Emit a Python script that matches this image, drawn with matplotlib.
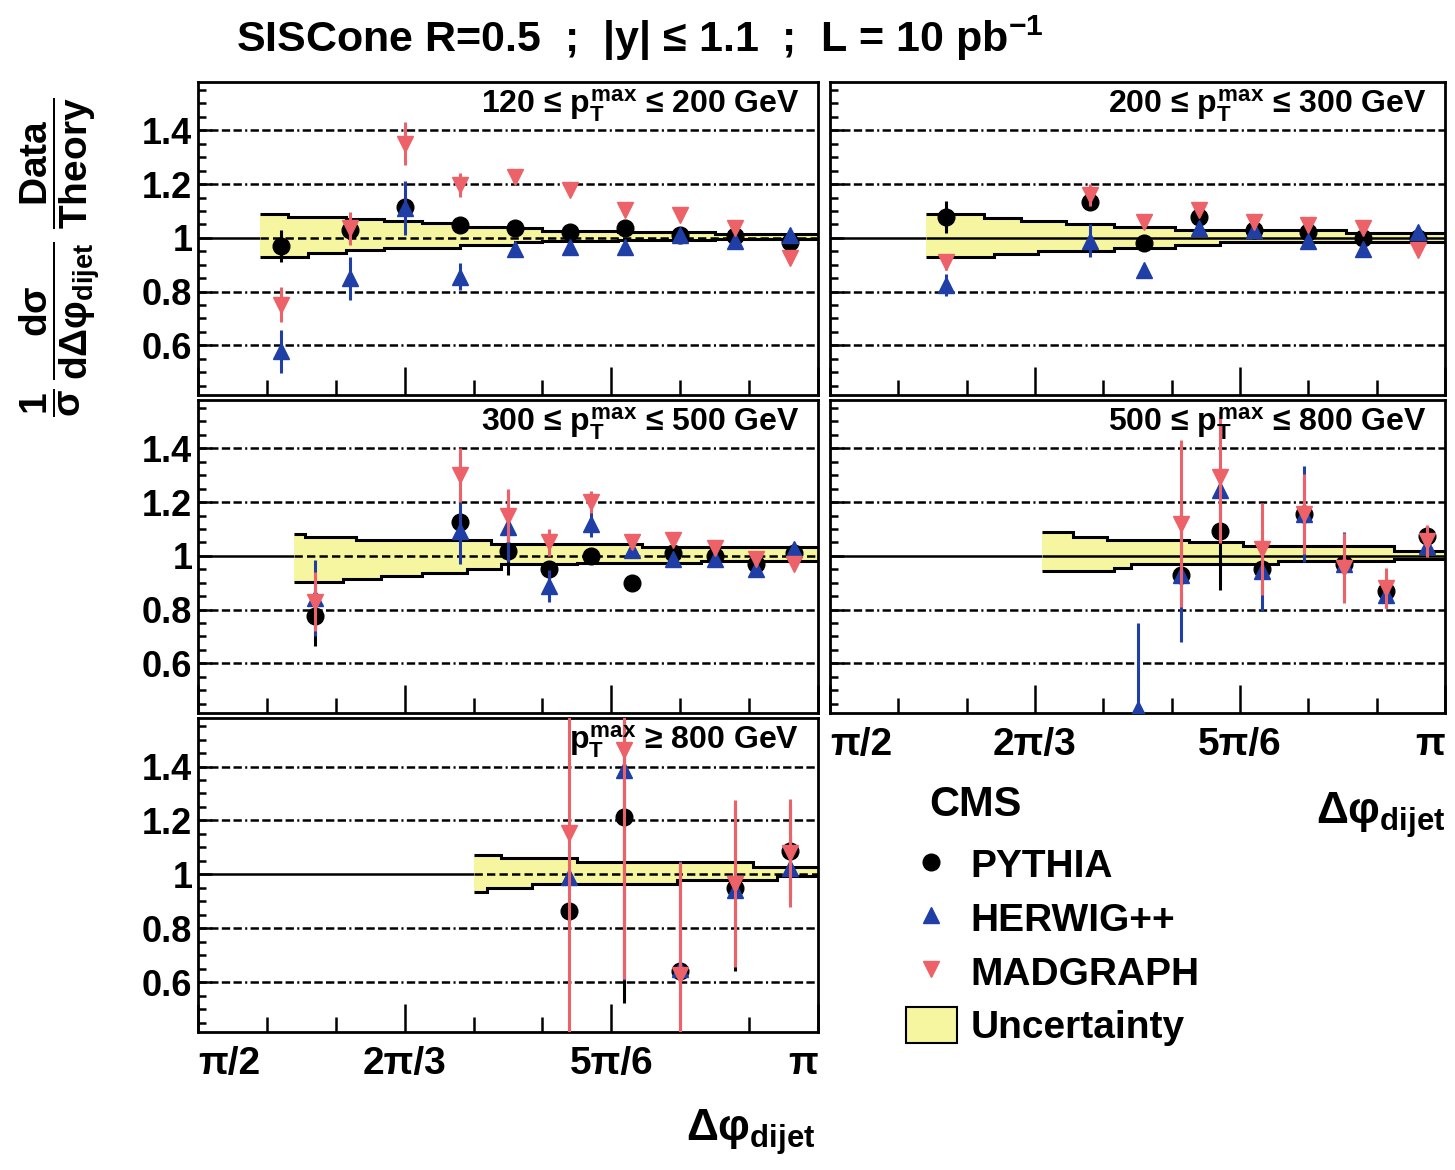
import matplotlib.pyplot as plt
import numpy as np
from matplotlib.lines import Line2D
from matplotlib.patches import Patch

plt.rcParams['font.family'] = ['Liberation Sans', 'DejaVu Sans']
plt.rcParams['font.weight'] = 'bold'
plt.rcParams['mathtext.fontset'] = 'custom'
for k in ['rm', 'it', 'bf', 'sf']:
    plt.rcParams['mathtext.' + k] = 'Liberation Sans:bold'
plt.rcParams['lines.scale_dashes'] = False

# one panel per pT bin
pt_labels = [r'120 ≤ $p_{T}^{max}$ ≤ 200 GeV',
             r'200 ≤ $p_{T}^{max}$ ≤ 300 GeV',
             r'300 ≤ $p_{T}^{max}$ ≤ 500 GeV',
             r'500 ≤ $p_{T}^{max}$ ≤ 800 GeV',
             r'$p_{T}^{max}$ ≥ 800 GeV']

# delta phi of the points, degrees
dphi = [
    [102, 112, 120, 128, 136, 144, 152, 160, 168, 176],
    [107, 128, 136, 144, 152, 160, 168, 176],
    [107, 128, 135, 141, 147, 153, 159, 165, 171, 176.5],
    [135, 141.4, 147.1, 153.2, 159.3, 165.2, 171.3, 177.3],
    [143.9, 151.9, 159.9, 167.9, 175.9],
]

pythia = [
    [0.97, 1.03, 1.115, 1.048, 1.035, 1.023, 1.035, 1.01, 1.005, 0.986],
    [1.078, 1.134, 0.98, 1.078, 1.03, 1.02, 1.0, 1.0],
    [0.775, 1.125, 1.019, 0.95, 1.0, 0.9, 1.012, 1.0, 0.97, 1.01],
    [np.nan, 0.93, 1.094, 0.95, 1.156, 0.97, 0.87, 1.075],
    [0.864, 1.211, 0.64, 0.95, 1.085],
]
pythia_err = [
    [0.06, 0.03, 0.03, 0.02, 0.02, 0.02, 0.02, 0.02, 0.02, 0.02],
    [0.06, 0.03, 0.02, 0.02, 0.02, 0.02, 0.02, 0.02],
    [0.11, 0.03, 0.09, 0.02, 0.02, 0.02, 0.02, 0.02, 0.02, 0.02],
    [np.nan, 0.03, 0.22, 0.03, 0.03, 0.03, 0.03, 0.03],
    [0.03, 0.69, 0.03, 0.31, 0.17],
]

herwig = [
    [0.578, 0.85, 1.11, 0.856, 0.96, 0.967, 0.967, 1.01, 0.99, 1.01],
    [0.825, 0.99, 0.88, 1.035, 1.03, 0.987, 0.96, 1.023],
    [0.843, 1.094, 1.106, 0.887, 1.12, 1.02, 0.99, 0.99, 0.95, 1.025],
    [0.43, 0.93, 1.244, 0.944, 1.156, 0.97, 0.856, 1.037],
    [0.99, 1.387, 0.65, 0.94, 1.022],
]
herwig_err = [
    [0.08, 0.08, 0.10, 0.05, 0.02, 0.02, 0.02, 0.02, 0.02, 0.02],
    [0.04, 0.06, 0.02, 0.02, 0.02, 0.02, 0.02, 0.02],
    [0.14, 0.125, 0.13, 0.06, 0.05, 0.02, 0.02, 0.02, 0.02, 0.02],
    [0.32, 0.25, 0.03, 0.15, 0.18, 0.12, 0.05, 0.03],
    [0.03, 0.78, 0.4, 0.03, 0.03],
]

madgraph = [
    [0.751, 1.035, 1.35, 1.196, 1.227, 1.177, 1.103, 1.085, 1.035, 0.924],
    [0.911, 1.159, 1.06, 1.103, 1.06, 1.048, 1.035, 0.955],
    [0.83, 1.30, 1.15, 1.05, 1.2, 1.05, 1.06, 1.03, 0.99, 0.97],
    [np.nan, 1.12, 1.294, 1.025, 1.156, 0.956, 0.88, 1.056],
    [1.154, 1.463, 0.625, 0.965, 1.08],
]
madgraph_err = [
    [0.065, 0.06, 0.08, 0.045, 0.02, 0.02, 0.02, 0.02, 0.02, 0.02],
    [0.03, 0.04, 0.02, 0.02, 0.02, 0.02, 0.02, 0.02],
    [0.11, 0.10, 0.10, 0.05, 0.04, 0.02, 0.02, 0.02, 0.02, 0.02],
    [np.nan, 0.31, 0.245, 0.17, 0.15, 0.13, 0.075, 0.06],
    [0.75, 0.85, 0.42, 0.31, 0.2],
]

# uncertainty band: step edges (degrees) and upper / lower values
band_edges = [
    [99, 103, 106, 111.5, 117, 122.5, 128, 136, 140, 151, 165, 180],
    [104, 112.5, 114, 118, 120.5, 124.5, 131.5, 140.5, 147, 165.5, 180],
    [104, 105.5, 111, 113, 116.5, 122.5, 129, 132.5, 134, 145, 154.5, 163, 180],
    [121, 125.5, 130.5, 131.5, 134, 142.5, 150.5, 155.5, 172.5, 180],
    [130, 132, 134, 138.5, 145, 159.5, 170.5, 174, 180],
]
band_up = [
    [1.087, 1.078, 1.078, 1.070, 1.064, 1.054, 1.042, 1.035, 1.025, 1.02, 1.015],
    [1.087, 1.073, 1.073, 1.064, 1.064, 1.051, 1.042, 1.029, 1.029, 1.017],
    [1.081, 1.069, 1.069, 1.06, 1.06, 1.06, 1.06, 1.044, 1.044, 1.044, 1.031, 1.031],
    [1.087, 1.069, 1.06, 1.06, 1.06, 1.05, 1.037, 1.037, 1.019],
    [1.072, 1.072, 1.06, 1.06, 1.047, 1.047, 1.028, 1.028],
]
band_lo = [
    [0.93, 0.93, 0.943, 0.955, 0.963, 0.963, 0.975, 0.985, 0.99, 0.992, 0.995],
    [0.93, 0.93, 0.939, 0.939, 0.952, 0.952, 0.962, 0.973, 0.986, 0.986],
    [0.904, 0.904, 0.915, 0.915, 0.925, 0.937, 0.95, 0.95, 0.969, 0.975, 0.975, 0.98],
    [0.944, 0.944, 0.944, 0.956, 0.97, 0.97, 0.97, 0.98, 0.99],
    [0.934, 0.95, 0.95, 0.965, 0.965, 0.978, 0.978, 0.993],
]

c_pythia = 'black'
c_herwig = '#1f3ea6'
c_madgraph = '#ec6268'
c_band = '#f6f5a0'

W, H = 1455, 1170
fig = plt.figure(figsize=(W / 100, H / 100), dpi=100)

col_x = [(198, 620), (830, 615)]
row_y = [(82, 313), (400, 313), (718, 314)]
slots = [(0, 0), (0, 1), (1, 0), (1, 1), (2, 0)]
show_xlabels = [False, False, False, True, True]

grid_style = (0, (6, 2.4, 6, 2.4, 6, 2.4, 6, 2.4, 1.5, 2.4))

for i, (r, c) in enumerate(slots):
    x0, w = col_x[c]
    y0, h = row_y[r]
    ax = fig.add_axes([x0 / W, 1 - (y0 + h) / H, w / W, h / H])
    ax.set_xlim(np.pi / 2, np.pi)
    ax.set_ylim(0.415, 1.58)

    for yv in [0.6, 0.8, 1.2, 1.4]:
        ax.axhline(yv, color='k', lw=1.8, ls=grid_style, zorder=1)
    ax.axhline(1, color='k', lw=1.8, zorder=1)

    edges = np.radians(band_edges[i])
    ax.stairs(band_up[i], edges, baseline=band_lo[i], fill=True,
              color=c_band, lw=0, zorder=2)
    ax.stairs(band_up[i], edges, baseline=None, color='k', lw=2.2, zorder=3)
    ax.stairs(band_lo[i], edges, baseline=None, color='k', lw=2.2, zorder=3)
    ax.hlines(1, edges[0], edges[-1], color='k', lw=1.8,
              ls=(0, (6, 3)) if c == 0 else '-', zorder=3)

    x = np.radians(dphi[i])
    ax.errorbar(x, pythia[i], yerr=pythia_err[i], fmt='o', color=c_pythia,
                ms=12, elinewidth=2.2, capsize=0, zorder=4)
    ax.errorbar(x, herwig[i], yerr=herwig_err[i], fmt='^', color=c_herwig,
                ms=12, elinewidth=2.2, capsize=0, zorder=5)
    ax.errorbar(x, madgraph[i], yerr=madgraph_err[i], fmt='v', color=c_madgraph,
                ms=12, elinewidth=2.2, capsize=0, zorder=6)

    ax.text(0.97, 0.925, pt_labels[i], transform=ax.transAxes, ha='right',
            va='center', fontsize=23, zorder=7)

    ax.set_xticks(np.radians([90, 120, 150, 180]))
    ax.set_xticks(np.radians([100, 110, 130, 140, 160, 170]), minor=True)
    ax.set_yticks([0.6, 0.8, 1.0, 1.2, 1.4])
    ax.set_yticks(np.arange(0.45, 1.58, 0.05), minor=True)
    ax.tick_params(axis='x', which='major', direction='in', length=20, width=1.8,
                   labelsize=28, pad=10, labelbottom=show_xlabels[i])
    ax.tick_params(axis='x', which='minor', direction='in', length=11, width=1.8)
    ax.tick_params(axis='y', which='major', direction='in', length=10, width=1.8,
                   labelsize=26, pad=4, labelleft=(c == 0))
    ax.tick_params(axis='y', which='minor', direction='in', length=6, width=1.8)
    ax.set_yticklabels(['0.6', '0.8', '1', '1.2', '1.4'])
    ax.set_xticklabels(['π/2', '2π/3', '5π/6', 'π'])
    for lbl, ha in zip(ax.get_xticklabels(), ['left', 'center', 'center', 'right']):
        lbl.set_ha(ha)
    for s in ax.spines.values():
        s.set_linewidth(2)

fig.text(640 / W, 1 - 38 / H, r'SISCone R=0.5  ;  |y| ≤ 1.1  ;  L = 10 pb$^{-1}$',
         ha='center', va='center', fontsize=31)

fig.text(60 / W, 1 - 257 / H,
         r'$\dfrac{1}{\sigma}\,\dfrac{d\sigma}{d\Delta\varphi_{dijet}}\;\dfrac{Data}{Theory}$',
         rotation=90, ha='center', va='center', fontsize=28)

fig.text(815 / W, 1 - 1132 / H, r'$\Delta\varphi_{dijet}$', ha='right',
         va='center', fontsize=32)
fig.text(1445 / W, 1 - 815 / H, r'$\Delta\varphi_{dijet}$', ha='right',
         va='center', fontsize=32)

fig.text(975 / W, 1 - 805 / H, 'CMS', ha='center', va='center', fontsize=30)
handles = [Line2D([], [], marker='o', ls='', color=c_pythia, ms=12),
           Line2D([], [], marker='^', ls='', color=c_herwig, ms=12),
           Line2D([], [], marker='v', ls='', color=c_madgraph, ms=12),
           Patch(facecolor=c_band, edgecolor='k', lw=1.5)]
fig.legend(handles, ['PYTHIA', 'HERWIG++', 'MADGRAPH', 'Uncertainty'],
           loc='upper left', bbox_to_anchor=(906 / W, 1 - 846 / H),
           frameon=False, fontsize=28, borderpad=0, borderaxespad=0,
           handlelength=1.3, handleheight=1.05, handletextpad=0.35,
           labelspacing=0.37)

fig.savefig('out.png', dpi=100)
